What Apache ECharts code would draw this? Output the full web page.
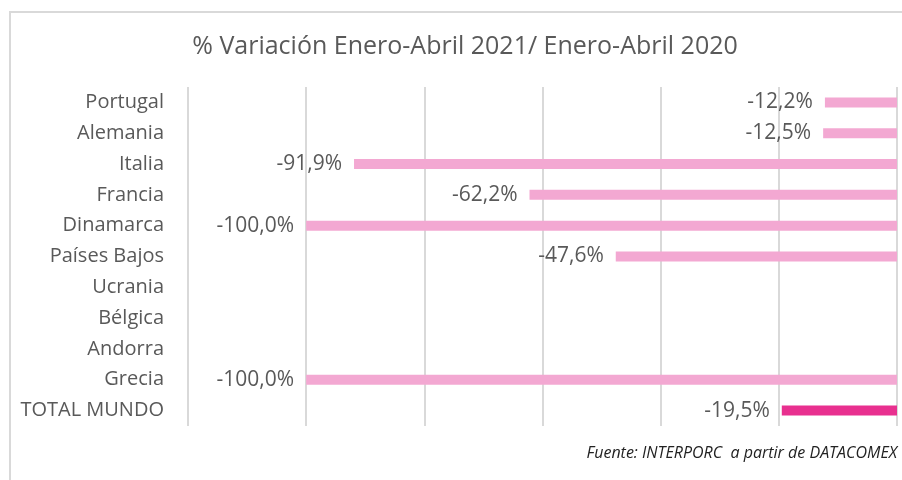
<!DOCTYPE html>
<html>
<head>
<meta charset="utf-8">
<script src="https://cdn.jsdelivr.net/npm/echarts@6/dist/echarts.min.js"></script>
<style>
  html, body { margin: 0; padding: 0; background: #fff; }
  #frame { position: absolute; left: 9px; top: 11px; width: 902px; height: 480px;
           border-left: 2px solid #d9d9d9; border-top: 2px solid #d9d9d9; box-sizing: border-box; }
  #chart { position: absolute; left: 0; top: 0; width: 902px; height: 480px; }
</style>
</head>
<body>
<div id="frame"></div>
<div id="chart"></div>
<script>
// Countries, top to bottom
const categories = ['Portugal', 'Alemania', 'Italia', 'Francia', 'Dinamarca', 'Países Bajos',
                    'Ucrania', 'Bélgica', 'Andorra', 'Grecia', 'TOTAL MUNDO'];
// % change Jan-Apr 2021 vs Jan-Apr 2020 (null = no value)
const variation = [-12.2, -12.5, -91.9, -62.2, -100.0, -47.6, null, null, null, -100.0, -19.5];
const totalCategory = 'TOTAL MUNDO';

const pink = '#F3A8D2';
const magenta = '#E8308F';
const textColor = '#595959';
const font = '"Open Sans", Lato, sans-serif';

const chart = echarts.init(document.getElementById('chart'), null, { renderer: 'canvas' });

chart.setOption({
  animation: false,
  title: {
    text: '% Variación Enero-Abril 2021/ Enero-Abril 2020',
    left: 460, top: 29, textAlign: 'center',
    textStyle: { fontFamily: font, fontSize: 25, fontWeight: 'normal', color: textColor }
  },
  graphic: [{
    type: 'text', right: 5, top: 445,
    style: { text: 'Fuente: INTERPORC  a partir de DATACOMEX', font: 'italic 16px ' + font, fill: '#222' }
  }],
  grid: { left: 188, right: 5, top: 87, bottom: 54, containLabel: false },
  xAxis: {
    type: 'value', min: -120, max: 0, interval: 20,
    axisLabel: { show: false }, axisLine: { show: false }, axisTick: { show: false },
    splitLine: { show: true, lineStyle: { color: '#d9d9d9', width: 2 } }
  },
  yAxis: {
    type: 'category', inverse: true, data: categories,
    axisLine: { show: false }, axisTick: { show: false },
    axisLabel: { margin: 24, fontFamily: font, fontSize: 20, color: textColor }
  },
  series: [{
    type: 'bar',
    barWidth: 10,
    data: variation.map((v, i) => ({
      value: v,
      itemStyle: { color: categories[i] === totalCategory ? magenta : pink }
    })),
    label: {
      show: true, position: 'left', distance: 12,
      fontFamily: font, fontSize: 21, color: textColor,
      formatter: p => (p.value == null ? '' : p.value.toFixed(1).replace('.', ',') + '%')
    }
  }]
});
</script>
</body>
</html>
